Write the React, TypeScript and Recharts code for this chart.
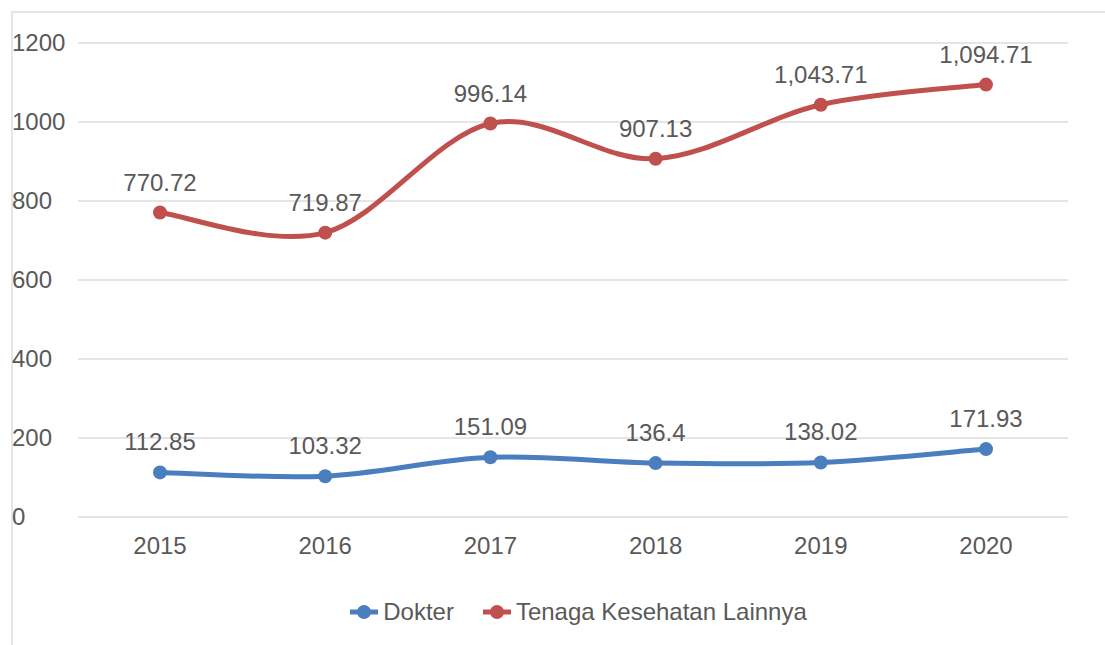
import {
  LineChart,
  Line,
  XAxis,
  YAxis,
  CartesianGrid,
  Legend,
  LabelList,
} from "recharts";

const years = ["2015", "2016", "2017", "2018", "2019", "2020"];
const dokter = [112.85, 103.32, 151.09, 136.4, 138.02, 171.93];
const tenagaLain = [770.72, 719.87, 996.14, 907.13, 1043.71, 1094.71];
const yTicks = [0, 200, 400, 600, 800, 1000, 1200];

const data = years.map((year, i) => ({
  year,
  dokter: dokter[i],
  tenaga: tenagaLain[i],
}));

const font = "'Liberation Sans', Arial, sans-serif";
const textColor = "#595959";
const blue = "#4a7ebf";
const red = "#c0504d";

// smoothing like office charts (catmull-rom through the points)
function smoothCurve(context: any) {
  let pts: number[][] = [];
  return {
    areaStart() {},
    areaEnd() {},
    lineStart() {
      pts = [];
    },
    point(x: number, y: number) {
      pts.push([+x, +y]);
    },
    lineEnd() {
      if (!pts.length) return;
      context.moveTo(pts[0][0], pts[0][1]);
      for (let i = 0; i < pts.length - 1; i++) {
        const p0 = pts[i - 1] || pts[i];
        const p1 = pts[i];
        const p2 = pts[i + 1];
        const p3 = pts[i + 2] || p2;
        context.bezierCurveTo(
          p1[0] + (p2[0] - p0[0]) / 6,
          p1[1] + (p2[1] - p0[1]) / 6,
          p2[0] - (p3[0] - p1[0]) / 6,
          p2[1] - (p3[1] - p1[1]) / 6,
          p2[0],
          p2[1]
        );
      }
    },
  };
}

const fmt = (v: any) =>
  Number(v).toLocaleString("en-US", { maximumFractionDigits: 2 });

function YTick({ y, payload }: any) {
  return (
    <text x={12} y={y} dy="0.35em" fill={textColor} fontSize={24} fontFamily={font}>
      {payload.value}
    </text>
  );
}

function LegendContent({ payload }: any) {
  return (
    <div
      style={{
        display: "flex",
        justifyContent: "center",
        alignItems: "center",
        height: 40,
        paddingLeft: 104,
        fontFamily: font,
        fontSize: 24,
        color: textColor,
      }}
    >
      {(payload || []).map((p: any) => (
        <div key={p.value} style={{ display: "flex", alignItems: "center", marginRight: 28 }}>
          <svg width={30} height={16} style={{ marginRight: 4 }}>
            <line x1={1} y1={8} x2={29} y2={8} stroke={p.color} strokeWidth={5} />
            <circle cx={15} cy={8} r={7} fill={p.color} />
          </svg>
          <span>{p.value}</span>
        </div>
      ))}
    </div>
  );
}

export default function App() {
  return (
    <div style={{ position: "absolute", left: 0, top: 0, width: 1105, height: 645, background: "#fff" }}>
      <div
        style={{
          position: "absolute",
          left: 11,
          top: 11,
          right: 0,
          bottom: 0,
          borderTop: "2px solid #e6e6e6",
          borderLeft: "2px solid #e6e6e6",
        }}
      />
      <div style={{ position: "absolute", left: 0, top: 0 }}>
        <LineChart
          width={1105}
          height={645}
          data={data}
          margin={{ top: 43, right: 37, left: 12, bottom: 13 }}
        >
          <CartesianGrid vertical={false} stroke="#dcdcdc" strokeWidth={1.5} />
          <XAxis
            dataKey="year"
            axisLine={false}
            tickLine={false}
            height={75}
            tickMargin={14}
            padding={{ left: 82, right: 82 }}
            tick={{ fill: textColor, fontSize: 24, fontFamily: font }}
          />
          <YAxis
            width={66}
            domain={[0, 1200]}
            ticks={yTicks}
            axisLine={false}
            tickLine={false}
            tick={<YTick />}
          />
          <Legend verticalAlign="bottom" height={40} content={<LegendContent />} />
          <Line
            name="Dokter"
            dataKey="dokter"
            type={smoothCurve as any}
            stroke={blue}
            strokeWidth={5}
            dot={{ r: 7, fill: blue, stroke: blue, strokeWidth: 0 }}
            isAnimationActive={false}
          >
            <LabelList
              dataKey="dokter"
              position="top"
              offset={22}
              formatter={fmt}
              fill={textColor}
              fontSize={24}
              fontFamily={font}
            />
          </Line>
          <Line
            name="Tenaga Kesehatan Lainnya"
            dataKey="tenaga"
            type={smoothCurve as any}
            stroke={red}
            strokeWidth={5}
            dot={{ r: 7, fill: red, stroke: red, strokeWidth: 0 }}
            isAnimationActive={false}
          >
            <LabelList
              dataKey="tenaga"
              position="top"
              offset={22}
              formatter={fmt}
              fill={textColor}
              fontSize={24}
              fontFamily={font}
            />
          </Line>
        </LineChart>
      </div>
    </div>
  );
}
